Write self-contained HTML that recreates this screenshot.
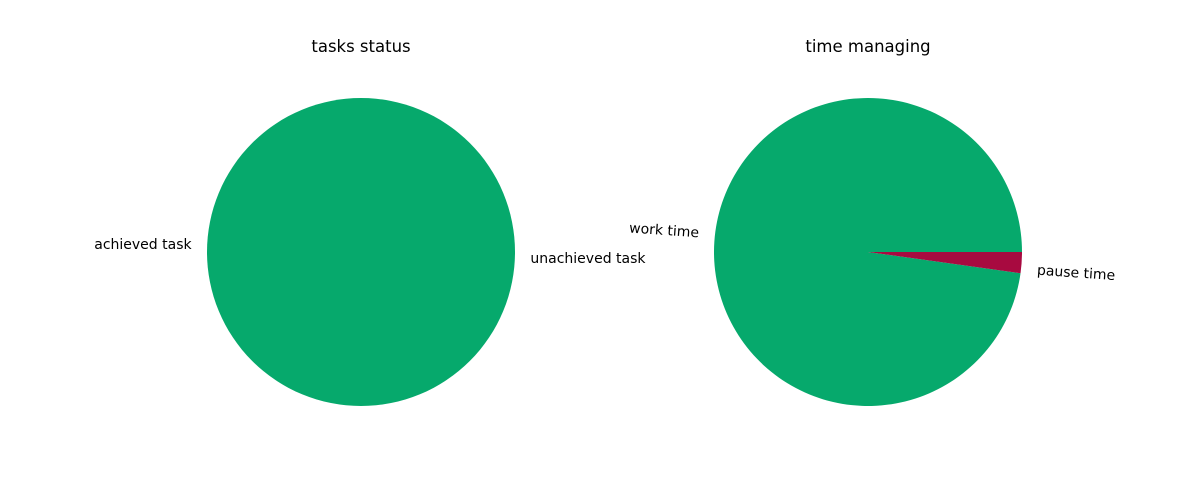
<!DOCTYPE html>
<html><head><meta charset="utf-8"><style>
body{margin:0;background:#fff;}
svg{display:block;font-family:"DejaVu Sans","Liberation Sans",sans-serif;}
</style></head><body>
<svg id="chart" width="1200" height="500" viewBox="0 0 1200 500">
<rect width="1200" height="500" fill="#fff"/>
<text x="361" y="52" text-anchor="middle" font-size="16.5">tasks status</text>
<text x="868" y="52" text-anchor="middle" font-size="16.5">time managing</text>
</svg>
<script>
const taskLabels = ["achieved task", "unachieved task"];
const taskValues = [100, 0];
const timeLabels = ["work time", "pause time"];
const timeValues = [97.8, 2.2];
const colors = ["#06a96c", "#a80a40"];

const NS = "http://www.w3.org/2000/svg";
const svg = document.getElementById("chart");
const R = 154;

function drawPie(cx, cy, labels, values, rotate, prefix) {
  const total = values.reduce((a, b) => a + b, 0);
  let start = 0;
  values.forEach((v, i) => {
    const frac = v / total;
    const end = start + frac * 2 * Math.PI;
    if (frac > 0) {
      let el;
      if (frac >= 0.9999) {
        el = document.createElementNS(NS, "circle");
        el.setAttribute("cx", cx); el.setAttribute("cy", cy); el.setAttribute("r", R);
      } else {
        el = document.createElementNS(NS, "path");
        const x1 = cx + R * Math.cos(start), y1 = cy - R * Math.sin(start);
        const x2 = cx + R * Math.cos(end), y2 = cy - R * Math.sin(end);
        const large = frac > 0.5 ? 1 : 0;
        el.setAttribute("d", `M${cx},${cy} L${x1},${y1} A${R},${R} 0 ${large} 0 ${x2},${y2} Z`);
      }
      el.setAttribute("fill", colors[i]);
      
      
      svg.appendChild(el);
    }
    const mid = (start + end) / 2;
    const left = Math.cos(mid) < 0;
    const lx = cx + 1.1 * R * Math.cos(mid);
    const ly = cy - 1.1 * R * Math.sin(mid) + (left ? -7 : 7);
    const t = document.createElementNS(NS, "text");
    t.setAttribute("x", lx); t.setAttribute("y", ly);
    t.setAttribute("font-size", "14");
    t.setAttribute("dominant-baseline", "middle");
    t.setAttribute("text-anchor", left ? "end" : "start");
    if (rotate) {
      let deg = -mid * 180 / Math.PI;
      if (left) deg += 180;
      t.setAttribute("transform", `rotate(${deg} ${lx} ${ly})`);
    }
    t.textContent = labels[i];
    
    
    svg.appendChild(t);
    start = end;
  });
}
drawPie(361, 252, taskLabels, taskValues, false, "tasks");
drawPie(868, 252, timeLabels, timeValues, true, "time");
</script>
</body></html>
